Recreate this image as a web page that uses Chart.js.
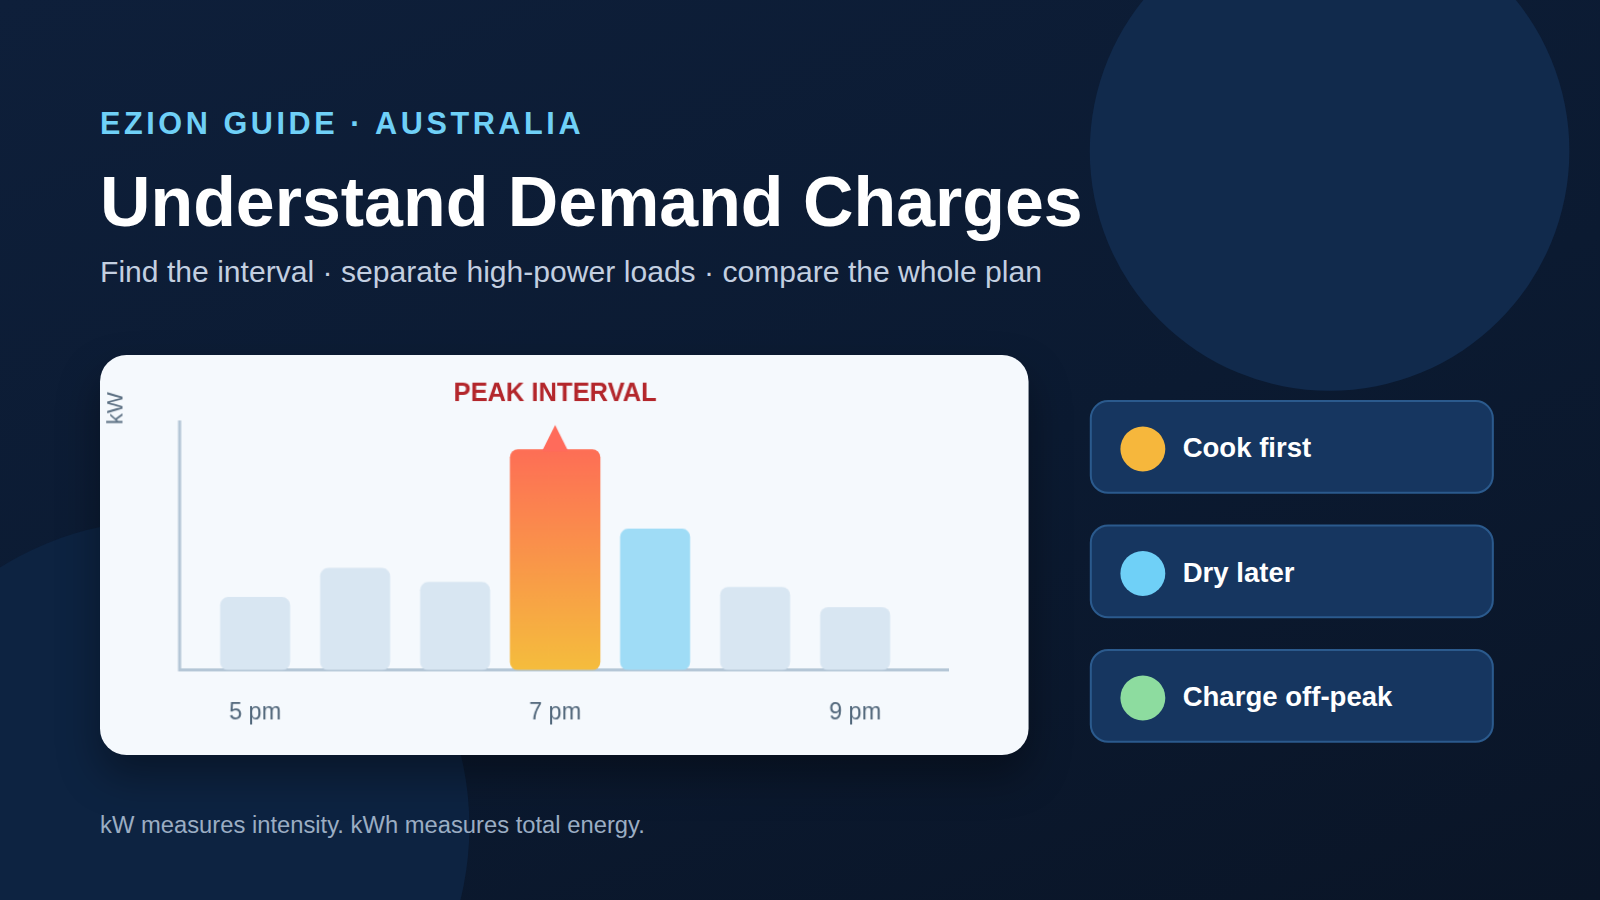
<!DOCTYPE html>
<html>
<head>
<meta charset="utf-8">
<script src="https://cdn.jsdelivr.net/npm/chart.js@4"></script>
<style>
  html, body { margin: 0; padding: 0; width: 1600px; height: 900px; overflow: hidden; background: #0b1a30; }
  #stage { position: absolute; left: 0; top: 0; width: 1568px; height: 882px; transform: scale(1.0204); transform-origin: 0 0;
    background: linear-gradient(160deg, #0e1f3a 0%, #0b1a31 55%, #0a1527 100%); overflow: hidden;
    font-family: "Liberation Sans", Arial, sans-serif; }
  .circle { position: absolute; border-radius: 50%; }
  .eyebrow { position: absolute; left: 98px; top: 104px; color: #6fd0f7; font-weight: bold; font-size: 30px; letter-spacing: 3.5px; }
  h1 { position: absolute; left: 98px; top: 158px; margin: 0; color: #fff; font-size: 68.5px; font-weight: bold; }
  .sub { position: absolute; left: 98px; top: 249px; color: #c3cfe0; font-size: 29.5px; }
  .card { position: absolute; left: 98px; top: 348px; width: 910px; height: 392px; background: #f5f9fd; border-radius: 26px;
    box-shadow: 0 20px 40px rgba(0,0,0,0.35); }
  .card canvas { position: absolute; left: 0; top: 0; }
  .pill { position: absolute; left: 1068px; width: 396px; height: 92px; background: #163660; border: 2px solid #2b5a8d;
    border-radius: 18px; box-sizing: border-box; }
  .pill .dot { position: absolute; left: 28px; top: 24px; width: 44px; height: 44px; border-radius: 50%; }
  .pill span { position: absolute; left: 89px; top: 30px; color: #fff; font-weight: bold; font-size: 27px; }
  .foot { position: absolute; left: 98px; top: 795px; color: #9badc3; font-size: 23.3px; }
</style>
</head>
<body>
<div id="stage">
  <div class="circle" style="left:1068px;top:-87px;width:470px;height:470px;background:#112a4c;"></div>
  <div class="circle" style="left:-140px;top:510px;width:600px;height:600px;background:#0d2341;"></div>
  <div class="eyebrow">EZION GUIDE · AUSTRALIA</div>
  <h1>Understand Demand Charges</h1>
  <div class="sub">Find the interval · separate high-power loads · compare the whole plan</div>
  <div class="card"><canvas id="chart" width="910" height="392"></canvas></div>
  <div class="pill" style="top:392px;"><div class="dot" style="background:#f6b73c;"></div><span>Cook first</span></div>
  <div class="pill" style="top:514px;"><div class="dot" style="background:#6fd0f7;"></div><span>Dry later</span></div>
  <div class="pill" style="top:636px;"><div class="dot" style="background:#8ddc9f;"></div><span>Charge off-peak</span></div>
  <div class="foot">kW measures intensity. kWh measures total energy.</div>
</div>
<script>
const intervals = ["5 pm", "", "", "7 pm", "", "", "9 pm"];
const otherLoad = [72, 101, 87, null, 140, 82, 62];
const peakLoad = [null, null, null, 219, null, null, null];
const otherColors = ["#d8e6f2", "#d8e6f2", "#d8e6f2", "#d8e6f2", "#9fdcf6", "#d8e6f2", "#d8e6f2"];
const peakLabel = "PEAK INTERVAL";

// axis lines run a bit past the bar slots, like the original
const axisLines = {
  id: "axisLines",
  beforeDatasetsDraw(chart) {
    const ctx = chart.ctx, a = chart.chartArea;
    ctx.save();
    ctx.strokeStyle = "#b4c6d6";
    ctx.lineWidth = 3;
    ctx.beginPath();
    ctx.moveTo(78, a.top);
    ctx.lineTo(78, a.bottom);
    ctx.lineTo(832, a.bottom);
    ctx.stroke();
    ctx.restore();
  }
};

const peakMarker = {
  id: "peakMarker",
  afterDatasetsDraw(chart) {
    const ctx = chart.ctx;
    const bar = chart.getDatasetMeta(1).data[3];
    ctx.save();
    ctx.fillStyle = "#ff6b5b";
    ctx.beginPath();
    ctx.moveTo(bar.x - 13, bar.y + 2);
    ctx.lineTo(bar.x, bar.y - 24);
    ctx.lineTo(bar.x + 13, bar.y + 2);
    ctx.closePath();
    ctx.fill();
    ctx.fillStyle = "#b3262b";
    ctx.font = "bold 25px 'Liberation Sans', Arial, sans-serif";
    ctx.textAlign = "center";
    ctx.textBaseline = "middle";
    ctx.fillText(peakLabel, bar.x, 38);
    ctx.fillStyle = "#5d7184";
    ctx.font = "22px 'Liberation Sans', Arial, sans-serif";
    ctx.translate(16, 52);
    ctx.rotate(-Math.PI / 2);
    ctx.fillText("kW", 0, 0);
    ctx.restore();
  }
};

new Chart(document.getElementById("chart"), {
  type: "bar",
  data: {
    labels: intervals,
    datasets: [
      { data: otherLoad, backgroundColor: otherColors, barThickness: 68, borderRadius: 8, borderSkipped: false },
      {
        data: peakLoad, barThickness: 88, borderRadius: 8, borderSkipped: false,
        backgroundColor(c) {
          const area = c.chart.chartArea;
          if (!area) return "#ff8a50";
          const g = c.chart.ctx.createLinearGradient(0, area.bottom, 0, area.top);
          g.addColorStop(0, "#f5bd3d");
          g.addColorStop(1, "#ff6459");
          return g;
        }
      }
    ]
  },
  options: {
    responsive: false,
    animation: false,
    layout: { padding: { left: 103, right: 121, top: 64, bottom: 8 } },
    plugins: { legend: { display: false }, tooltip: { enabled: false } },
    scales: {
      x: {
        stacked: true,
        grid: { display: false },
        border: { display: false },
        ticks: { color: "#50667a", font: { size: 23, family: "'Liberation Sans', Arial" }, padding: 20, autoSkip: false, maxRotation: 0 }
      },
      y: {
        display: false,
        min: 0, max: 248
      }
    }
  },
  plugins: [axisLines, peakMarker]
});
</script>
</body>
</html>
